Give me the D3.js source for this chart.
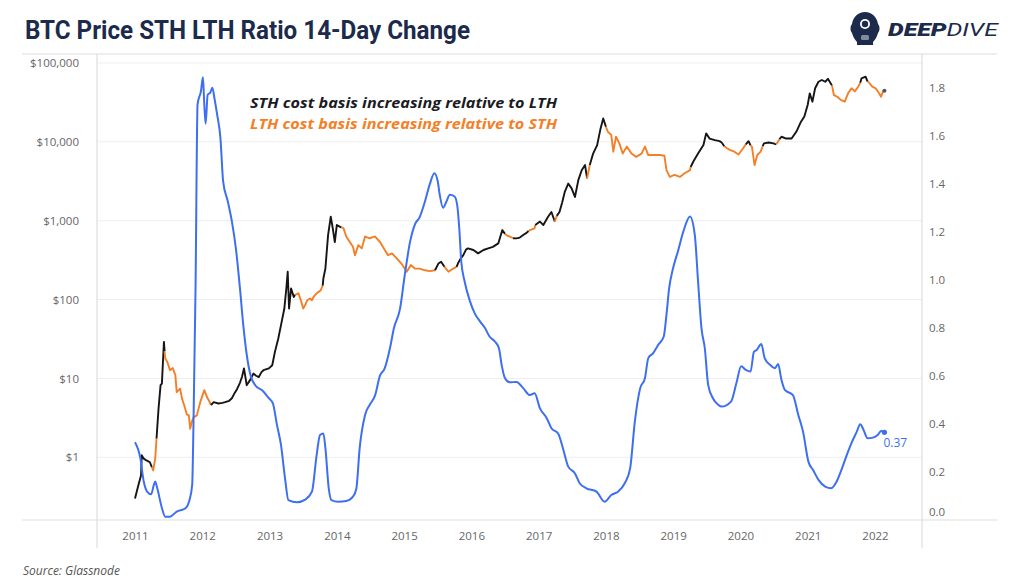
<!DOCTYPE html>
<html>
<head>
<meta charset="utf-8">
<script src="https://cdn.jsdelivr.net/npm/d3@7"></script>
<style>
  html, body { margin: 0; padding: 0; background: #fff; }
  svg { display: block; }
</style>
</head>
<body>
<svg id="chart" width="1024" height="587"></svg>
<script>
// ---------------- DATA ----------------
const yearTicks = [2011, 2012, 2013, 2014, 2015, 2016, 2017, 2018, 2019, 2020, 2021, 2022];
const priceTicks = [1, 10, 100, 1000, 10000, 100000];
const ratioTicks = [0, 0.2, 0.4, 0.6, 0.8, 1.0, 1.2, 1.4, 1.6, 1.8];

const priceYears = [
  2011.00, 2011.05, 2011.09, 2011.10, 2011.13, 2011.17, 2011.22, 2011.25, 2011.27, 2011.30,
  2011.32, 2011.35, 2011.38, 2011.40, 2011.43, 2011.44, 2011.45, 2011.48, 2011.52, 2011.56,
  2011.60, 2011.62, 2011.67, 2011.70, 2011.73, 2011.77, 2011.80, 2011.82, 2011.85, 2011.87,
  2011.92, 2011.97, 2012.03, 2012.07, 2012.10, 2012.13, 2012.17, 2012.24, 2012.30, 2012.34,
  2012.40, 2012.44, 2012.48, 2012.52, 2012.56, 2012.59, 2012.62, 2012.64, 2012.66, 2012.71,
  2012.76, 2012.80, 2012.84, 2012.88, 2012.91, 2012.99, 2013.04, 2013.08, 2013.13, 2013.18,
  2013.22, 2013.25, 2013.27, 2013.29, 2013.32, 2013.36, 2013.38, 2013.43, 2013.47, 2013.50,
  2013.53, 2013.56, 2013.60, 2013.63, 2013.66, 2013.70, 2013.73, 2013.76, 2013.79, 2013.80,
  2013.83, 2013.87, 2013.91, 2013.94, 2013.97, 2014.00, 2014.05, 2014.07, 2014.10, 2014.14,
  2014.19, 2014.24, 2014.27, 2014.32, 2014.37, 2014.42, 2014.49, 2014.53, 2014.57, 2014.64,
  2014.70, 2014.76, 2014.82, 2014.89, 2014.96, 2015.04, 2015.10, 2015.16, 2015.23, 2015.31,
  2015.38, 2015.46, 2015.51, 2015.55, 2015.60, 2015.66, 2015.73, 2015.78, 2015.80, 2015.84,
  2015.88, 2015.92, 2015.95, 2016.03, 2016.10, 2016.18, 2016.25, 2016.32, 2016.40, 2016.46,
  2016.50, 2016.52, 2016.57, 2016.62, 2016.67, 2016.72, 2016.77, 2016.82, 2016.85, 2016.87,
  2016.94, 2016.95, 2017.02, 2017.07, 2017.14, 2017.19, 2017.24, 2017.27, 2017.31, 2017.35,
  2017.39, 2017.44, 2017.49, 2017.54, 2017.59, 2017.64, 2017.69, 2017.72, 2017.76, 2017.81,
  2017.87, 2017.92, 2017.96, 2018.00, 2018.03, 2018.08, 2018.11, 2018.15, 2018.20, 2018.25,
  2018.31, 2018.38, 2018.45, 2018.53, 2018.58, 2018.63, 2018.70, 2018.80, 2018.87, 2018.90,
  2018.95, 2019.02, 2019.10, 2019.17, 2019.25, 2019.26, 2019.30, 2019.37, 2019.45, 2019.49,
  2019.54, 2019.62, 2019.69, 2019.72, 2019.76, 2019.80, 2019.84, 2019.91, 2019.97, 2020.04,
  2020.08, 2020.12, 2020.15, 2020.17, 2020.21, 2020.25, 2020.30, 2020.33, 2020.35, 2020.42,
  2020.49, 2020.53, 2020.55, 2020.58, 2020.61, 2020.68, 2020.76, 2020.83, 2020.90, 2020.95,
  2021.00, 2021.03, 2021.07, 2021.11, 2021.16, 2021.21, 2021.26, 2021.30, 2021.36, 2021.39,
  2021.44, 2021.49, 2021.55, 2021.60, 2021.65, 2021.70, 2021.75, 2021.78, 2021.80, 2021.86,
  2021.89, 2021.90, 2021.96, 2022.01, 2022.06, 2022.09, 2022.12, 2022.14
];
const priceValues = [
  0.30, 0.44, 0.59, 1.06, 0.96, 0.91, 0.87, 0.75, 0.68, 0.95,
  1.73, 4.15, 8.2, 8.6, 29, 22, 17.9, 16.2, 12.7, 13.5,
  11, 6.7, 7.4, 5.5, 4.6, 3.5, 3.4, 2.3, 2.9, 3.2,
  3.4, 5.0, 7.1, 5.8, 5.2, 4.6, 5.0, 4.8, 4.9, 5.0,
  5.2, 5.6, 6.5, 7.4, 8.8, 10.4, 13.4, 10.5, 8.2, 9.5,
  11.5, 10.8, 10.4, 12.0, 12.7, 13.4, 14.7, 21.7, 32, 52,
  77, 140, 225, 77, 138, 108, 115, 120, 95, 77,
  85, 98, 103, 98, 110, 120, 125, 131, 150, 185,
  247, 657, 1122, 800, 536, 880, 836, 820, 800, 630,
  540, 466, 365, 490, 445, 630, 596, 620, 630, 540,
  445, 365, 385, 332, 286, 225, 274, 247, 247, 235,
  229, 235, 286, 301, 260, 225, 247, 260, 286, 330,
  365, 430, 445, 425, 385, 425, 445, 466, 515, 760,
  680, 657, 630, 600, 596, 610, 657, 700, 740, 760,
  800, 880, 975, 880, 1120, 1290, 975, 1150, 1290, 1700,
  2340, 2960, 2570, 2000, 3270, 4370, 5070, 3450, 5070, 7100,
  9100, 14700, 19800, 15500, 13400, 12200, 7500, 11600, 9560, 7100,
  8700, 7100, 6450, 7100, 8700, 6800, 6800, 6800, 6650, 4370,
  3590, 3800, 3590, 3990, 4370, 4800, 5630, 7100, 9100, 12800,
  11000, 10500, 10200, 9800, 8800, 8300, 7900, 7500, 6900, 8300,
  9300, 10200, 9000, 8700, 5070, 6800, 7500, 8800, 9560, 9800,
  9560, 9300, 9800, 10800, 11600, 11000, 11000, 13400, 18000, 20900,
  29500, 41200, 32300, 47800, 57800, 60800, 57800, 63000, 52000, 39000,
  37300, 34000, 32300, 41200, 47800, 43600, 50000, 56000, 64000, 67000,
  58000, 57800, 50000, 47800, 41200, 37300, 43600, 44500
];

// Which cohort's cost basis is rising, from each start year on
const regimeStarts = [
  2011.00, 2011.25, 2011.32, 2011.44, 2012.13, 2013.38, 2013.79, 2014.07, 2015.46, 2015.60,
  2015.78, 2016.50, 2016.62, 2016.85, 2016.95, 2017.24, 2017.27, 2017.72, 2017.76, 2018.00,
  2019.26, 2019.76, 2020.08, 2020.15, 2020.33, 2020.53, 2020.58, 2021.36, 2021.78, 2021.89
];
const regimeSides = [
  "STH", "LTH", "STH", "LTH", "STH", "LTH", "STH", "LTH", "STH", "LTH",
  "STH", "LTH", "STH", "LTH", "STH", "LTH", "STH", "LTH", "STH", "LTH",
  "STH", "LTH", "STH", "LTH", "STH", "LTH", "STH", "LTH", "STH", "LTH"
];

const ratioYears = [
  2011.00, 2011.08, 2011.13, 2011.18, 2011.24, 2011.28, 2011.30, 2011.33, 2011.40, 2011.45,
  2011.52, 2011.62, 2011.75, 2011.81, 2011.85, 2011.87, 2011.90, 2011.93, 2011.98, 2012.01,
  2012.03, 2012.05, 2012.08, 2012.12, 2012.15, 2012.18, 2012.22, 2012.27, 2012.31, 2012.38,
  2012.44, 2012.50, 2012.56, 2012.61, 2012.66, 2012.72, 2012.79, 2012.89, 2012.99, 2013.05,
  2013.11, 2013.17, 2013.23, 2013.28, 2013.41, 2013.53, 2013.63, 2013.70, 2013.75, 2013.80,
  2013.83, 2013.88, 2013.92, 2014.02, 2014.14, 2014.24, 2014.29, 2014.34, 2014.42, 2014.49,
  2014.57, 2014.64, 2014.71, 2014.79, 2014.85, 2014.94, 2015.01, 2015.09, 2015.16, 2015.23,
  2015.31, 2015.38, 2015.45, 2015.50, 2015.53, 2015.58, 2015.63, 2015.68, 2015.75, 2015.79,
  2015.82, 2015.85, 2015.90, 2015.98, 2016.05, 2016.13, 2016.20, 2016.27, 2016.35, 2016.41,
  2016.45, 2016.50, 2016.57, 2016.67, 2016.77, 2016.87, 2016.94, 2017.02, 2017.12, 2017.19,
  2017.29, 2017.36, 2017.44, 2017.54, 2017.61, 2017.71, 2017.86, 2017.98, 2018.08, 2018.18,
  2018.28, 2018.36, 2018.43, 2018.51, 2018.58, 2018.63, 2018.70, 2018.78, 2018.86, 2018.90,
  2018.94, 2019.00, 2019.07, 2019.15, 2019.25, 2019.32, 2019.37, 2019.42, 2019.47, 2019.52,
  2019.59, 2019.67, 2019.72, 2019.86, 2019.94, 2020.01, 2020.08, 2020.15, 2020.20, 2020.24,
  2020.31, 2020.36, 2020.44, 2020.51, 2020.56, 2020.61, 2020.66, 2020.78, 2020.86, 2020.93,
  2021.01, 2021.08, 2021.16, 2021.26, 2021.35, 2021.43, 2021.50, 2021.58, 2021.65, 2021.73,
  2021.78, 2021.83, 2021.89, 2021.97, 2022.04, 2022.09, 2022.14
];
const ratioValues = [
  0.324, 0.257, 0.16, 0.118, 0.107, 0.146, 0.16, 0.133, 0.05, 0.014,
  0.014, 0.035, 0.049, 0.083, 0.146, 0.41, 0.967, 1.73, 1.785, 1.843,
  1.73, 1.65, 1.77, 1.78, 1.80, 1.757, 1.69, 1.59, 1.41, 1.326,
  1.243, 1.13, 0.965, 0.81, 0.69, 0.60, 0.56, 0.54, 0.507, 0.486,
  0.396, 0.3125, 0.174, 0.083, 0.074, 0.085, 0.118, 0.27, 0.354, 0.36,
  0.30, 0.132, 0.083, 0.076, 0.079, 0.097, 0.13, 0.30, 0.4375, 0.48,
  0.52, 0.60, 0.63, 0.715, 0.80, 0.88, 1.02, 1.16, 1.23, 1.26,
  1.326, 1.396, 1.444, 1.41, 1.354, 1.30, 1.326, 1.354, 1.347, 1.31,
  1.215, 1.076, 0.993, 0.91, 0.86, 0.826, 0.80, 0.764, 0.743, 0.715,
  0.646, 0.59, 0.573, 0.575, 0.549, 0.52, 0.528, 0.465, 0.424, 0.382,
  0.36, 0.30, 0.222, 0.194, 0.153, 0.132, 0.118, 0.076, 0.104, 0.118,
  0.153, 0.215, 0.41, 0.549, 0.59, 0.674, 0.694, 0.73, 0.764, 0.854,
  0.965, 1.05, 1.118, 1.20, 1.264, 1.19, 0.993, 0.80, 0.715, 0.5625,
  0.507, 0.48, 0.472, 0.493, 0.57, 0.64, 0.625, 0.618, 0.70, 0.708,
  0.733, 0.674, 0.646, 0.632, 0.649, 0.583, 0.542, 0.52, 0.4375, 0.368,
  0.243, 0.208, 0.167, 0.139, 0.132, 0.16, 0.208, 0.27, 0.32, 0.368,
  0.399, 0.375, 0.34, 0.343, 0.354, 0.37, 0.365
];

const titleText = "BTC Price STH LTH Ratio 14-Day Change";
const noteSTH = "STH cost basis increasing relative to LTH";
const noteLTH = "LTH cost basis increasing relative to STH";
const sourceText = "Source: Glassnode";
const lastLabel = "0.37";

// ---------------- LAYOUT ----------------
const COLORS = { STH: "#151515", LTH: "#f47f26", ratio: "#3d6ff0", navy: "#1c2b4b",
                 tick: "#666", frame: "#dedede", grid: "#eeeeee" };
const plot = { left: 97, right: 922, top: 54, bottom: 520 };

const svg = d3.select("#chart");
svg.append("rect").attr("width", 1024).attr("height", 587).attr("fill", "#fff");

const x = d3.scaleLinear().domain([2011, 2022]).range([135, 875]);
const yL = d3.scaleLog().domain([0.16, 130000]).range([plot.bottom, plot.top]);
const yR = d3.scaleLinear().domain([0, 1.94]).range([plot.bottom, plot.top]);

// gridlines (price decades)
svg.append("g").selectAll("line").data(priceTicks).join("line")
  .attr("x1", plot.left).attr("x2", plot.right)
  .attr("y1", d => yL(d)).attr("y2", d => yL(d))
  .attr("stroke", COLORS.grid).attr("stroke-width", 1);

// frame
const frame = svg.append("g").attr("stroke", COLORS.frame).attr("stroke-width", 1.2);
frame.append("line").attr("x1", 22).attr("x2", 997).attr("y1", plot.top).attr("y2", plot.top);
frame.append("line").attr("x1", 22).attr("x2", 997).attr("y1", plot.bottom).attr("y2", plot.bottom);
frame.append("line").attr("x1", plot.left).attr("x2", plot.left).attr("y1", plot.top).attr("y2", 548);
frame.append("line").attr("x1", plot.right).attr("x2", plot.right).attr("y1", plot.top).attr("y2", 548);

// axes
const fmtPrice = d => "$" + d3.format(",")(d);
const axL = svg.append("g").attr("transform", `translate(${plot.left - 15},0)`)
  .call(d3.axisLeft(yL).tickValues(priceTicks).tickFormat(fmtPrice).tickSize(0));
const axR = svg.append("g").attr("transform", `translate(${plot.right + 7},0)`)
  .call(d3.axisRight(yR).tickValues(ratioTicks).tickFormat(d3.format(".1f")).tickSize(0));
const axB = svg.append("g").attr("transform", `translate(0,${plot.bottom + 9})`)
  .call(d3.axisBottom(x).tickValues(yearTicks).tickFormat(d3.format("d")).tickSize(0));
[axL, axR, axB].forEach(a => {
  a.select(".domain").remove();
  a.selectAll("text").attr("fill", COLORS.tick)
    .style("font-family", "'Open Sans', sans-serif").style("font-size", "11.5px");
});
axR.selectAll(".tick").filter(d => d === 0).select("text").attr("dy", "-0.35em");
axR.selectAll("text").attr("x", 0);

// price line, coloured by regime
const pts = priceYears.map((yr, i) => {
  let side = regimeSides[0];
  for (let k = 0; k < regimeStarts.length; k++) if (yr >= regimeStarts[k] - 1e-9) side = regimeSides[k];
  return { yr, v: priceValues[i], side };
});
const segs = [];
for (let i = 0; i < pts.length - 1; i++) {
  const last = segs[segs.length - 1];
  if (last && last.side === pts[i].side) last.pts.push(pts[i + 1]);
  else segs.push({ side: pts[i].side, pts: [pts[i], pts[i + 1]] });
}
const priceLine = d3.line().x(d => x(d.yr)).y(d => yL(d.v));
svg.append("g").selectAll("path").data(segs).join("path")
  .attr("d", d => priceLine(d.pts))
  .attr("fill", "none").attr("stroke", d => COLORS[d.side])
  .attr("stroke-width", 1.9).attr("stroke-linejoin", "round");
svg.append("circle").attr("cx", x(priceYears[priceYears.length - 1]))
  .attr("cy", yL(priceValues[priceValues.length - 1])).attr("r", 2).attr("fill", "#555");

// ratio line
const ratioLine = d3.line().x((d, i) => x(ratioYears[i])).y(d => yR(d)).curve(d3.curveMonotoneX);
svg.append("path").datum(ratioValues).attr("d", ratioLine)
  .attr("fill", "none").attr("stroke", COLORS.ratio).attr("stroke-width", 2)
  .attr("stroke-linejoin", "round");
const lx = x(ratioYears[ratioYears.length - 1]), ly = yR(ratioValues[ratioValues.length - 1]);
svg.append("circle").attr("cx", lx).attr("cy", ly).attr("r", 2.6).attr("fill", COLORS.ratio);
svg.append("text").attr("x", lx - 1).attr("y", ly + 15).text(lastLabel)
  .attr("fill", COLORS.ratio).style("font-family", "'Open Sans', sans-serif").style("font-size", "12px");

// annotations
svg.append("text").attr("x", 250).attr("y", 108).text(noteSTH)
  .attr("fill", "#1b1b24").attr("textLength", 307).attr("lengthAdjust", "spacingAndGlyphs")
  .style("font-family", "'Open Sans', sans-serif").style("font-weight", 700)
  .style("font-style", "italic").style("font-size", "15px");
svg.append("text").attr("x", 250).attr("y", 129).text(noteLTH)
  .attr("fill", COLORS.LTH).attr("textLength", 307).attr("lengthAdjust", "spacingAndGlyphs")
  .style("font-family", "'Open Sans', sans-serif").style("font-weight", 700)
  .style("font-style", "italic").style("font-size", "15px");

// title
svg.append("text").attr("x", 25).attr("y", 39).text(titleText)
  .attr("fill", COLORS.navy).attr("textLength", 445).attr("lengthAdjust", "spacingAndGlyphs")
  .style("font-family", "Roboto, sans-serif").style("font-weight", 700).style("font-size", "25px");

// source
svg.append("text").attr("x", 23).attr("y", 575).text(sourceText)
  .attr("fill", "#555").style("font-family", "'Open Sans', sans-serif")
  .style("font-style", "italic").style("font-size", "12px");

// logo (diving helmet + wordmark)
const logo = svg.append("g");
logo.append("path")
  .attr("d", "M865,12 C872,12 877,17 878,24 C880,26 880,31 878,33 C877,37 875,40 873,42 L873,45 L857,45 L857,42 C855,40 853,37 852,33 C850,31 850,26 852,24 C853,17 858,12 865,12 Z")
  .attr("fill", COLORS.navy);
logo.append("circle").attr("cx", 865).attr("cy", 24).attr("r", 5).attr("fill", "#fff");
logo.append("circle").attr("cx", 865).attr("cy", 24).attr("r", 3.2).attr("fill", COLORS.navy);
logo.append("rect").attr("x", 861).attr("y", 35).attr("width", 8).attr("height", 5).attr("rx", 1.5)
  .attr("fill", "#fff").attr("opacity", 0.45);
const lt = logo.append("text").attr("x", 888).attr("y", 36).attr("fill", COLORS.navy)
  .attr("textLength", 110).attr("lengthAdjust", "spacingAndGlyphs")
  .style("font-family", "Roboto, sans-serif").style("font-style", "italic").style("font-size", "19px");
lt.append("tspan").text("DEEP").style("font-weight", 900);
lt.append("tspan").text("DIVE").style("font-weight", 400);
</script>
</body>
</html>
